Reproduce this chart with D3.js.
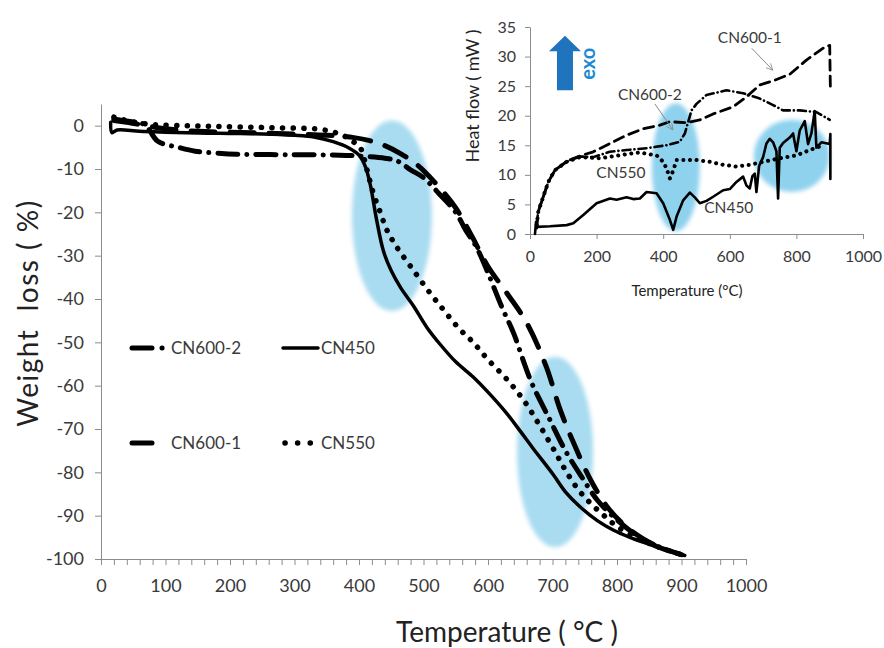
<!DOCTYPE html>
<html lang="en">
<head>
	<meta charset="UTF-8">
	<title>TG and DSC curves</title>
	<script src="https://d3js.org/d3.v7.min.js"></script>
	<style>
		body {margin: 0; background: #fff;}
		svg text {font-family: Lato, "Open Sans", sans-serif; fill: #3a3a3a;}
		.axis .domain, .axis line {stroke: #8c8c8c; stroke-width: 1;}
	</style>
</head>
<body>
	<div id="myDiv"></div>
<script>

// ---------------- data ----------------
// main chart: weight loss (%) vs temperature (°C)
const seriesNames = ["CN600-2", "CN450", "CN600-1", "CN550"];

const cn450TG = [[15,0.8],[17,-1.6],[25,-1],[60,-1.3],[100,-1.5],[150,-1.7],[200,-1.8],[250,-1.9],[300,-2.2],
	[330,-2.6],[360,-3.7],[385,-5.2],[400,-6.8],[410,-9.5],[418,-14],[427,-21.5],[438,-29],[450,-33.5],
	[465,-37.5],[484,-41.5],[505,-46.5],[526,-50.5],[550,-54.5],[577,-58],[600,-61.5],[629,-66.4],[650,-70.5],
	[670,-74.5],[701,-80.5],[720,-84.5],[743,-88],[770,-91.2],[794,-93.3],[820,-95],[846,-96.4],[875,-97.8],[905,-99.2]];

const cn550TG = [[20,2],[34,1.4],[60,0.6],[84,0.2],[130,0],[172,-0.15],[220,-0.3],[275,-0.5],[342,-0.9],
	[373,-2.1],[390,-3.6],[402,-5.1],[412,-10],[422,-15.5],[433,-20],[443,-24],[458,-27.9],[484,-33.3],
	[510,-38.6],[531,-42.5],[555,-46.8],[577,-50],[600,-54],[629,-58.5],[655,-63.3],[681,-69.4],[706,-75.8],
	[722,-80],[740,-84],[758,-87],[780,-90],[800,-92.5],[830,-95],[860,-97],[900,-99]];

const cn600_1TG = [[20,1.2],[40,0.8],[70,0],[100,-0.7],[150,-1.3],[250,-1.7],[350,-2.2],[390,-2.7],[415,-3.4],
	[440,-4.6],[465,-6.5],[490,-9],[520,-13.5],[550,-19],[575,-25.5],[600,-32.5],[629,-38.6],[660,-45.5],
	[690,-55.5],[712,-65.6],[735,-74],[760,-82],[785,-88],[810,-92],[840,-95.3],[870,-97.5],[900,-99]];

const cn600_2TG = [[20,1.5],[42,1],[68,0.2],[88,-3.6],[120,-5],[146,-5.9],[177,-6.3],[210,-6.6],[300,-6.7],
	[370,-6.8],[400,-7],[440,-7.5],[460,-8.2],[480,-10.2],[500,-12],[526,-16],[550,-20],[565,-24],[582,-28],
	[600,-34],[621,-41.7],[640,-48],[657,-55.2],[669,-59.8],[696,-67.9],[720,-75],[745,-81],[770,-86.5],
	[800,-91],[830,-94.5],[860,-97],[900,-99]];

// inset: heat flow (mW) vs temperature (°C)
const cn450DSC = [[15,0],[18,2],[22,1.2],[60,1.3],[110,1.5],[130,1.8],[160,3.2],[200,5.2],[240,6],[260,5.8],
	[290,6.2],[310,5.9],[330,6],[350,7.1],[380,6.9],[400,5.2],[420,2.4],[430,0.7],[440,2.9],[460,5.7],[480,7],
	[495,6.2],[510,5.2],[530,5.6],[550,6.3],[580,7.4],[600,7.6],[620,8.8],[640,9.7],[650,8.2],[660,7.7],
	[668,9.8],[675,10.2],[680,7.1],[688,11.5],[700,13],[710,15.3],[720,16.1],[730,15.5],[740,14],[745,6],
	[750,14.6],[760,15.4],[780,16.3],[790,17],[800,14],[810,17.5],[825,19.1],[835,15.2],[845,17],[855,20.8],
	[860,14.6],[875,15.5],[900,15.2],[902,16.9],[902,9.3]];

const cn550DSC = [[20,1.5],[25,3.8],[35,5.5],[55,8.8],[75,10.8],[110,12.2],[150,13],[210,12.8],[290,13.5],
	[330,13.8],[355,13.5],[380,13.3],[400,12.2],[410,11.1],[420,9.4],[430,10.7],[440,12.5],[470,12.5],
	[500,12.5],[540,12.2],[580,11.7],[620,11.4],[660,11.7],[700,12.2],[750,12.8],[800,13.3],[840,14.2],[870,14.8]];

const cn600_1DSC = [[20,1],[25,3.8],[35,5.5],[55,8.8],[75,10.8],[110,12.3],[150,13.2],[190,13.9],[240,15.3],
	[290,16.7],[340,17.8],[390,18.4],[420,19],[470,18.8],[510,19.3],[550,20.3],[610,21.5],[650,23.2],
	[690,25.2],[730,25.9],[780,27],[830,29.4],[885,31.6],[900,31.9],[902,24.7]];

const cn600_2DSC = [[20,1.8],[25,3.8],[35,5.5],[55,8.8],[75,10.8],[110,12.2],[150,13.1],[190,13],[240,13.9],
	[290,14.2],[350,14.5],[410,15],[450,15.6],[465,17],[485,20.9],[500,22],[530,23.5],[590,24.3],[640,23.8],
	[690,22.9],[730,21.8],[760,20.9],[810,20.9],[860,20.6],[900,19.3]];

// highlighted zones [temp, value, radius temp, radius value]
const mainZones = [[451,-20.8,62,22],[704,-75.3,59,22]];
const insetZones = [[438,11.3,72,10.8],[786,13.2,114,6.1]];

// tick labels
const mainXTicks = [0,100,200,300,400,500,600,700,800,900,1000];
const mainYTicks = [0,-10,-20,-30,-40,-50,-60,-70,-80,-90,-100];
const insetXTicks = [0,200,400,600,800,1000];
const insetYTicks = [0,5,10,15,20,25,30,35];

// ---------------- drawing ----------------
let svgContainer = d3.select("#myDiv").append("svg")
	.attr("width", 884)
	.attr("height", 648);

let x = d3.scaleLinear().domain([0, 1000]).range([101, 746]);
let y = d3.scaleLinear().domain([-100, 5]).range([559, 104]);

let ix = d3.scaleLinear().domain([0, 1000]).range([530, 863]);
let iy = d3.scaleLinear().domain([0, 35]).range([234, 27]);

let blur = svgContainer.append("defs").append("filter").attr("id", "soft");
blur.append("feGaussianBlur").attr("stdDeviation", 2);

//zones of the main chart
svgContainer.selectAll(".mzone").data(mainZones).enter()
	.append("ellipse")
		.attr("cx", d => x(d[0]))
		.attr("cy", d => y(d[1]))
		.attr("rx", d => x(d[2]) - x(0))
		.attr("ry", d => y(0) - y(d[3]))
		.attr("fill", "#a9dcf1")
		.attr("filter", "url(#soft)");

//axes main
let xAxis = d3.axisBottom(x)
	.tickValues(d3.range(0, 1001, 20))
	.tickSize(6).tickPadding(14)
	.tickFormat(d => mainXTicks.includes(d) ? String(d) : "");
svgContainer.append("g").attr("class", "axis")
	.attr("transform", "translate(0,559)")
	.call(xAxis)
	.attr("font-size", 18);

let yAxis = d3.axisLeft(y)
	.tickValues(mainYTicks)
	.tickSize(6).tickPadding(11).tickSizeOuter(0)
	.tickFormat(d => String(d));
svgContainer.append("g").attr("class", "axis")
	.attr("transform", "translate(101,0)")
	.call(yAxis)
	.attr("font-size", 18);

svgContainer.append("text")
	.attr("x", 507).attr("y", 642)
	.attr("text-anchor", "middle")
	.attr("font-size", 28)
	.style("fill", "#222")
	.style("white-space", "pre")
	.text("Temperature ( °C )");

svgContainer.append("text")
	.attr("transform", "translate(38,313) rotate(-90)")
	.attr("text-anchor", "middle")
	.attr("font-size", 28)
	.attr("letter-spacing", 1.5)
	.style("fill", "#222")
	.style("white-space", "pre")
	.text("Weight  loss ( %)");

//line styles
let styles = {
	"CN600-2": {dash: "20,9,0.1,9", w: 5},
	"CN450":   {dash: null, w: 3.5},
	"CN600-1": {dash: "24,15", w: 5},
	"CN550":   {dash: "0.1,10.5", w: 5.5}
};
let insetStyles = {
	"CN600-2": {dash: "8,4,0.1,4", w: 2.6},
	"CN450":   {dash: null, w: 2.6},
	"CN600-1": {dash: "10,6", w: 2.8},
	"CN550":   {dash: "0.1,6.5", w: 4}
};

let mainSeries = {"CN600-2": cn600_2TG, "CN450": cn450TG, "CN600-1": cn600_1TG, "CN550": cn550TG};
let insetSeries = {"CN600-2": cn600_2DSC, "CN450": cn450DSC, "CN600-1": cn600_1DSC, "CN550": cn550DSC};

let mainLine = d3.line()
	.x(d => x(d[0]))
	.y(d => y(d[1]))
	.curve(d3.curveCatmullRom.alpha(0.5));

seriesNames.forEach(function(name){
	svgContainer.append("path")
		.datum(mainSeries[name])
		.attr("d", mainLine)
		.attr("fill", "none")
		.attr("stroke", "#000")
		.attr("stroke-width", styles[name].w)
		.attr("stroke-linecap", "round")
		.attr("stroke-dasharray", styles[name].dash);
});

//legend
let legendPos = {
	"CN600-2": [132, 348, 31, "20,10,0.1,40"],
	"CN450":   [283, 348, 35, null],
	"CN600-1": [132, 443, 20, null],
	"CN550":   [285, 443, 26, "0.1,12.5"]
};
seriesNames.forEach(function(name){
	let p = legendPos[name];
	svgContainer.append("line")
		.attr("x1", p[0]).attr("x2", p[0] + p[2])
		.attr("y1", p[1]).attr("y2", p[1])
		.attr("stroke", "#000")
		.attr("stroke-width", styles[name].w)
		.attr("stroke-linecap", "round")
		.attr("stroke-dasharray", p[3]);
	svgContainer.append("text")
		.attr("x", name == "CN450" || name == "CN550" ? 321 : 171)
		.attr("y", p[1] + 6)
		.attr("font-size", 17)
		.text(name);
});

//---------------------------------------------------------------
// inset
svgContainer.selectAll(".izone").data(insetZones).enter()
	.append("ellipse")
		.attr("cx", d => ix(d[0]))
		.attr("cy", d => iy(d[1]))
		.attr("rx", d => ix(d[2]) - ix(0))
		.attr("ry", d => iy(0) - iy(d[3]))
		.attr("fill", "#8fd2ee")
		.attr("filter", "url(#soft)");

let ixAxis = d3.axisBottom(ix)
	.tickValues(insetXTicks)
	.tickSize(5).tickPadding(12).tickSizeOuter(0)
	.tickFormat(d => String(d));
svgContainer.append("g").attr("class", "axis")
	.attr("transform", "translate(0,234)")
	.call(ixAxis)
	.attr("font-size", 16);

let iyAxis = d3.axisLeft(iy)
	.tickValues(insetYTicks)
	.tickSize(5).tickPadding(9).tickSizeOuter(0)
	.tickFormat(d => String(d));
svgContainer.append("g").attr("class", "axis")
	.attr("transform", "translate(530,0)")
	.call(iyAxis)
	.attr("font-size", 16);

svgContainer.append("text")
	.attr("x", 687).attr("y", 296)
	.attr("text-anchor", "middle")
	.attr("font-size", 15)
	.style("fill", "#222")
	.text("Temperature (°C)");

svgContainer.append("text")
	.attr("transform", "translate(479,96) rotate(-90)")
	.attr("text-anchor", "middle")
	.attr("font-size", 18)
	.style("fill", "#222")
	.style("white-space", "pre")
	.text("Heat flow ( mW )");

let insetLine = d3.line()
	.x(d => ix(d[0]))
	.y(d => iy(d[1]));

seriesNames.forEach(function(name){
	svgContainer.append("path")
		.datum(insetSeries[name])
		.attr("d", insetLine)
		.attr("fill", "none")
		.attr("stroke", "#000")
		.attr("stroke-width", insetStyles[name].w)
		.attr("stroke-linecap", "round")
		.attr("stroke-linejoin", "round")
		.attr("stroke-dasharray", insetStyles[name].dash);
});

//labels inside inset
let insetLabels = [["CN600-1", 660, 32.3], ["CN600-2", 360, 22.6], ["CN550", 273, 9.5], ["CN450", 597, 3.5]];
svgContainer.selectAll(".ilab").data(insetLabels).enter()
	.append("text")
		.attr("x", d => ix(d[1]))
		.attr("y", d => iy(d[2]))
		.attr("text-anchor", "middle")
		.attr("font-size", 15.5)
		.text(d => d[0]);

svgContainer.select("defs").append("marker")
	.attr("id", "head")
	.attr("viewBox", "0 0 10 10")
	.attr("refX", 9).attr("refY", 5)
	.attr("markerWidth", 8).attr("markerHeight", 8)
	.attr("orient", "auto")
	.append("path")
		.attr("d", "M1,1 L9,5 L1,9")
		.attr("fill", "none")
		.attr("stroke", "#8a8a8a")
		.attr("stroke-width", 1);

let pointers = [[666, 31.4, 729, 27.7], [375, 22, 429, 17.6]];
svgContainer.selectAll(".ptr").data(pointers).enter()
	.append("line")
		.attr("x1", d => ix(d[0])).attr("y1", d => iy(d[1]))
		.attr("x2", d => ix(d[2])).attr("y2", d => iy(d[3]))
		.attr("stroke", "#8a8a8a")
		.attr("stroke-width", 1)
		.attr("marker-end", "url(#head)");

//exo arrow
let ax = ix(105), aTop = iy(33.5), aBase = iy(30.9), aBot = iy(24.3);
svgContainer.append("path")
	.attr("d", "M" + ax + "," + aTop + " L" + (ax + 16) + "," + aBase + " L" + (ax + 8) + "," + aBase +
		" L" + (ax + 8) + "," + aBot + " L" + (ax - 8) + "," + aBot + " L" + (ax - 8) + "," + aBase +
		" L" + (ax - 16) + "," + aBase + " Z")
	.attr("fill", "#1f74bd");

svgContainer.append("text")
	.attr("transform", "translate(" + (ax + 30) + "," + iy(28.8) + ") rotate(-90)")
	.attr("text-anchor", "middle")
	.attr("font-size", 20)
	.attr("font-weight", "bold")
	.style("fill", "#1b8ad3")
	.text("exo");

</script>
</body>
</html>
